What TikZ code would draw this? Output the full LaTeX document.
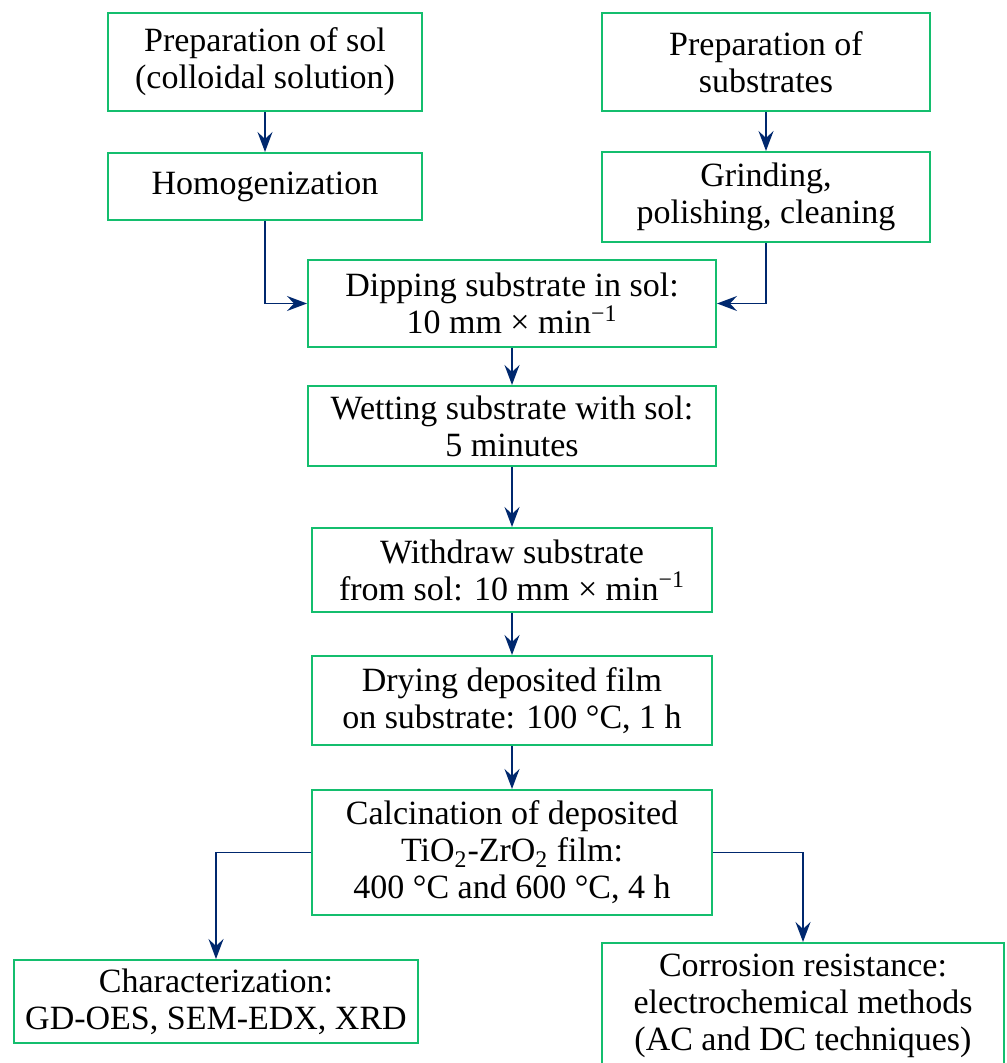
\documentclass[tikz,border=0pt]{standalone}
\usepackage{fontspec}
\setmainfont{Liberation Serif}
\usetikzlibrary{arrows.meta}
\definecolor{boxgreen}{RGB}{20,190,110}
\definecolor{arrowblue}{RGB}{0,40,110}
\tikzstyle{stepbox} = [draw=boxgreen, line width=1pt, align=center, inner sep=0pt, font=\fontsize{17}{18.5}\selectfont]
\tikzstyle{arrow} = [arrowblue, line width=0.8pt, -{Stealth[length=10pt, width=7.5pt, inset=3.5pt]}]

\begin{document}
\begin{tikzpicture}[x=0.5pt, y=-0.5pt]
        \useasboundingbox (0,0) rectangle (1006,1063);

        %sol branch
        \node at (265,62) [stepbox, minimum width=157pt, minimum height=49pt] (sol) {Preparation of sol\\(colloidal solution)};
        \node at (265,186.5) [stepbox, minimum width=157pt, minimum height=33.5pt] (homog) {Homogenization};

        %substrate branch
        \node at (766,62) [stepbox, minimum width=164pt, minimum height=49pt] (subs) {Preparation of\\substrates};
        \node at (766,197) [stepbox, minimum width=164pt, minimum height=45pt] (grind) {Grinding,\\polishing, cleaning};

        %coating steps
        \node at (512,303.5) [stepbox, minimum width=204pt, minimum height=43.5pt] (dip) {Dipping substrate in sol:\\10 mm × min\textsuperscript{−1}};
        \node at (512,426) [stepbox, minimum width=204pt, minimum height=40pt] (wet) {Wetting substrate with sol:\\5 minutes};
        \node at (512,570) [stepbox, minimum width=200pt, minimum height=42pt] (withdraw) {Withdraw substrate\\from sol: 10 mm × min\textsuperscript{−1}};
        \node at (512,700.5) [stepbox, minimum width=200pt, minimum height=44.5pt] (dry) {Drying deposited film\\on substrate: 100 °C, 1 h};
        \node at (512,852.5) [stepbox, minimum width=200pt, minimum height=62.5pt] (calc) {Calcination of deposited\\TiO\textsubscript{2}-ZrO\textsubscript{2} film:\\400 °C and 600 °C, 4 h};

        %results
        \node at (216,1001.5) [stepbox, minimum width=202pt, minimum height=41.5pt] (char) {Characterization:\\GD-OES, SEM-EDX, XRD};
        \node at (803,1006) [stepbox, minimum width=201pt, minimum height=63pt] (corr) {Corrosion resistance:\\electrochemical methods\\(AC and DC techniques)};

        \draw [arrow] (sol) -- (homog);
        \draw [arrow] (subs) -- (grind);
        \draw [arrow] (homog.south) |- (dip.west);
        \draw [arrow] (grind.south) |- (dip.east);
        \draw [arrow] (dip) -- (wet);
        \draw [arrow] (wet) -- (withdraw);
        \draw [arrow] (withdraw) -- (dry);
        \draw [arrow] (dry) -- (calc);
        \draw [arrow] (calc.west) -| (char.north);
        \draw [arrow] (calc.east) -| (corr.north);

    \end{tikzpicture}
\end{document}
